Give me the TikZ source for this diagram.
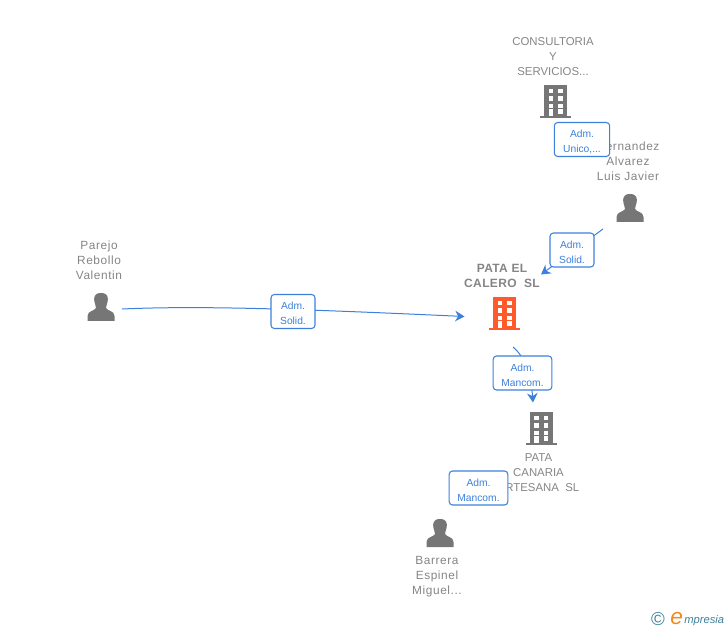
\documentclass[tikz,border=0pt]{standalone}
\usepackage{fontspec}
\setmainfont{Liberation Sans}
\newfontfamily\spacedsans[LetterSpace=5]{Liberation Sans}
\newfontfamily\boldspaced[LetterSpace=3,BoldFont={Liberation Sans Bold}]{Liberation Sans}
\usetikzlibrary{arrows.meta}
\definecolor{lbl}{HTML}{858585}
\definecolor{ico}{HTML}{767676}
\definecolor{hot}{HTML}{FF5A2B}
\definecolor{lnk}{HTML}{3C80DC}
\definecolor{logoB}{HTML}{3F8299}
\definecolor{logoO}{HTML}{F08A1D}
\newcommand{\bl}{\rule{0pt}{8.5pt}}
\tikzset{
  x=0.75pt,y=-0.75pt,
  lab/.style={text=lbl,font=\spacedsans\fontsize{8.9}{11.25}\selectfont,align=center,inner sep=0pt},
  caplab/.style={text=lbl,font=\fontsize{8.55}{11.25}\selectfont,align=center,inner sep=0pt},
  blab/.style={text=lbl,align=center,inner sep=0pt,font=\boldspaced\bfseries\fontsize{9}{11.25}\selectfont},
  badge/.style={draw=lnk,line width=0.8pt,rounded corners=2.5pt,fill=white,text=lnk,align=center,
    font=\fontsize{7.7}{11.25}\selectfont,inner sep=0pt,minimum height=25.5pt},
  conn/.style={draw=lnk,line width=0.75pt},
  tip/.style={-{Stealth[length=7pt,width=8pt]}},
  pics/bld/.style={code={
    \fill[#1] (-11.5,0) rectangle (11.5,31);
    \fill[#1] (-15.5,31) rectangle (15.5,33.5);
    \foreach \yy in {4,11.5,19}{
      \fill[white] (-7,\yy) rectangle (-2.5,\yy+4.5);
      \fill[white] (2.5,\yy) rectangle (7,\yy+4.5);
    }
    \fill[white] (-7,24.5) rectangle (-2.5,31);
    \fill[white] (2.5,24.5) rectangle (7,29);
  }},
  pics/psn/.style={code={
    \fill[ico] (0,0) .. controls (-7,0) and (-7.5,5) .. (-6.5,9)
      .. controls (-6,12) and (-5,13) .. (-5,15)
      .. controls (-6,18) and (-13.5,17.5) .. (-13.5,23)
      -- (-13.5,28) -- (13.5,28) -- (13.5,23)
      .. controls (13.5,17.5) and (6,18) .. (5,15)
      .. controls (5,13) and (6,12) .. (6.5,9)
      .. controls (7.5,5) and (7,0) .. (0,0) -- cycle;
  }}
}
\begin{document}
\begin{tikzpicture}
\useasboundingbox (0,0) rectangle (728,630);
% labels
\node[caplab] (lconsult) at (553,56.5) {CONSULTORIA\\Y\\SERVICIOS...};
\node[lab] (lhern) at (628,161.5) {Hernandez\\Alvarez\\Luis Javier};
\node[lab] (lparejo) at (99,260) {Parejo\\Rebollo\\Valentin};
\node[blab] (lpata) at (502,275.5) {PATA EL\\CALERO\ \ SL};
\node[caplab] (lcanaria) at (538.5,472.5) {PATA\\CANARIA\\ARTESANA\ \ SL};
\node[lab] (lbarrera) at (437,576.5) {Barrera\\Espinel\\Miguel...};
% icons
\pic at (555.5,85) {bld=ico};
\pic at (504.5,297) {bld=hot};
\pic at (541,412) {bld=ico};
\pic at (630,194) {psn};
\pic at (101,293) {psn};
\pic at (440,519) {psn};
% connector ends
\coordinate (parejoOut) at (122,309);
\coordinate (pataIn) at (464.5,316.5);
\coordinate (hernOut) at (603,229);
\coordinate (pataTop) at (541,274.5);
\coordinate (pataOut) at (513,347);
\coordinate (canariaIn) at (533,402.5);
% connectors
\draw[conn,tip] (parejoOut) .. controls (200,305.5) and (300,309) .. (pataIn);
\draw[conn,tip] (hernOut) -- (pataTop);
\draw[conn,tip] (pataOut) .. controls (525,357) and (531,375) .. (canariaIn);
% badges
\node[badge,minimum width=41.5pt] (b1) at (582,139.5) {\bl Adm.\\Unico,...};
\node[badge,minimum width=33pt] (b2) at (572,250) {\bl Adm.\\Solid.};
\node[badge,minimum width=33pt] (b3) at (293,311.5) {\bl Adm.\\Solid.};
\node[badge,minimum width=44pt] (b4) at (522.5,373) {\bl Adm.\\Mancom.};
\node[badge,minimum width=44pt] (b5) at (478.5,488) {\bl Adm.\\Mancom.};
% logo
\node[inner sep=0pt,text=logoB,font=\fontsize{14}{14}\selectfont] (copy) at (658,619) {©};
\node[inner sep=0pt,anchor=base west,text=logoO,font=\itshape\fontsize{17}{17}\selectfont] (loge) at (670,624.5) {e};
\node[inner sep=0pt,anchor=base west,text=logoB,font=\itshape\fontsize{8.4}{10}\selectfont] (logr) at (684,623) {mpresia};
\end{tikzpicture}
\end{document}
